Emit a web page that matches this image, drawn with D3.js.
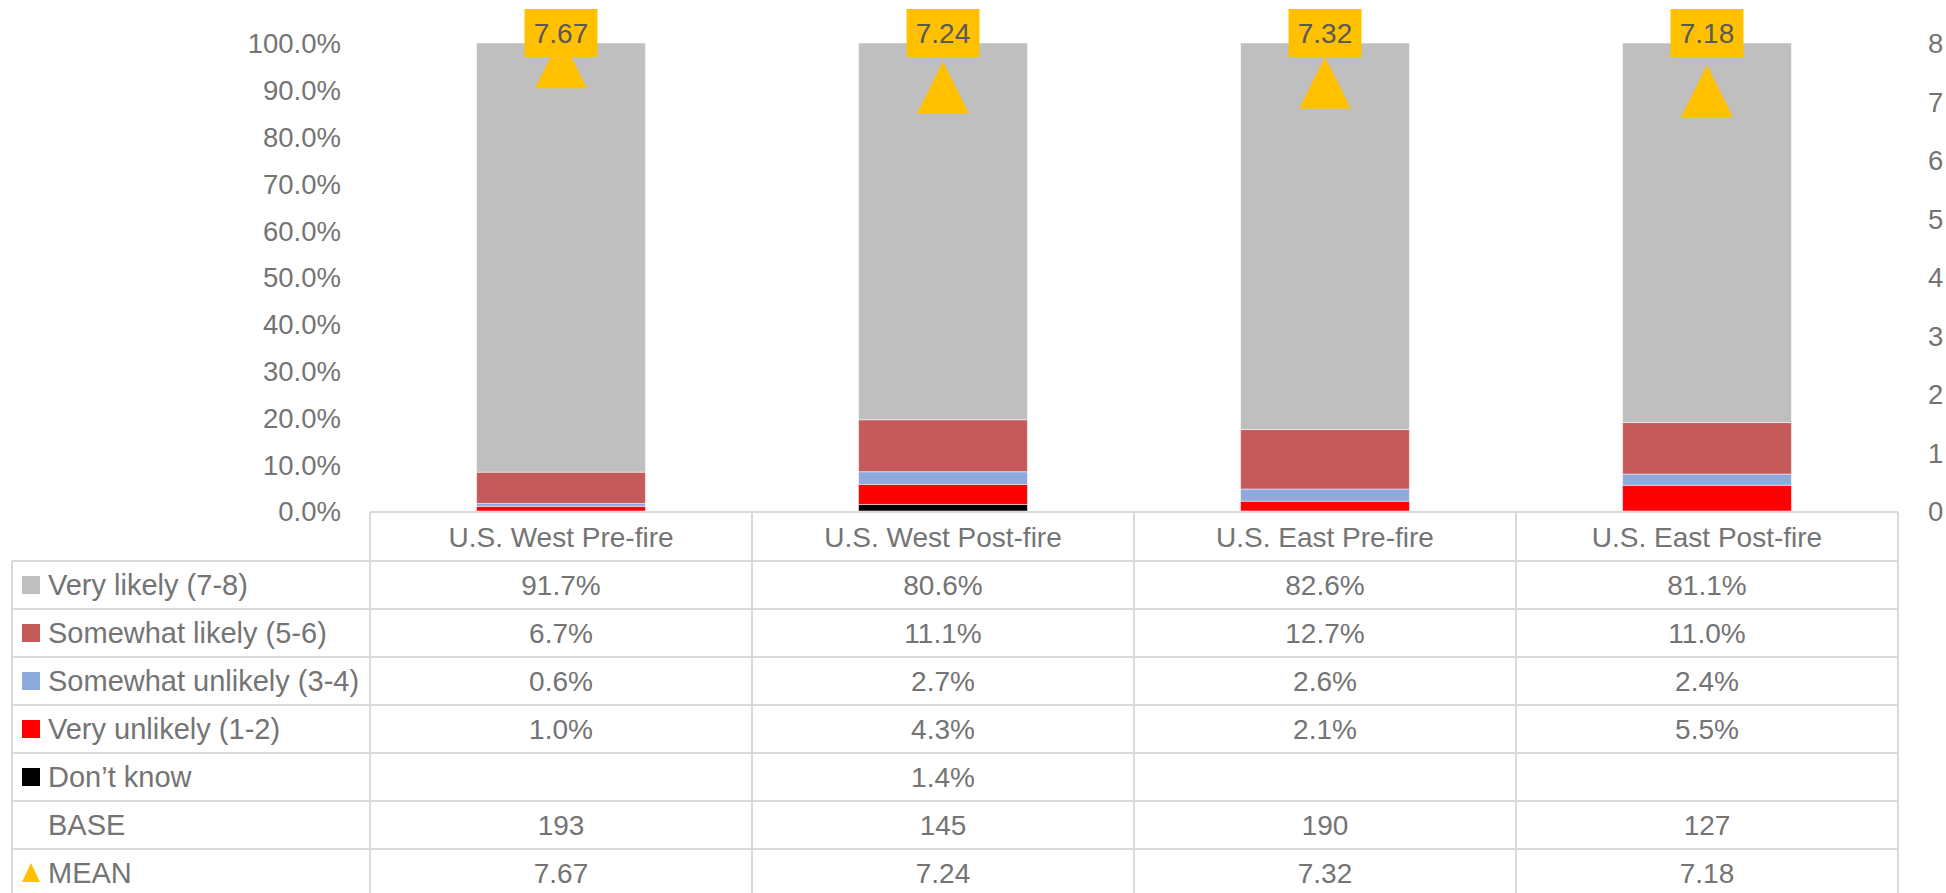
<!DOCTYPE html>
<html>
<head>
<meta charset="utf-8">
<script src="https://cdn.jsdelivr.net/npm/d3@7"></script>
<style>
  html, body { margin: 0; padding: 0; background: #fff; }
  text { font-family: "Liberation Sans", Arial, sans-serif; }
</style>
</head>
<body>
<svg id="chart"></svg>
<script>
var categories = ["U.S. West Pre-fire", "U.S. West Post-fire", "U.S. East Pre-fire", "U.S. East Post-fire"];
// stacked from bottom to top
var seriesNames = ["Don\u2019t know", "Very unlikely (1-2)", "Somewhat unlikely (3-4)", "Somewhat likely (5-6)", "Very likely (7-8)"];
var dontKnow = [null, 1.4, null, null];
var veryUnlikely = [1.0, 4.3, 2.1, 5.5];
var somewhatUnlikely = [0.6, 2.7, 2.6, 2.4];
var somewhatLikely = [6.7, 11.1, 12.7, 11.0];
var veryLikely = [91.7, 80.6, 82.6, 81.1];
var base = [193, 145, 190, 127];
var means = [7.67, 7.24, 7.32, 7.18];
var pctTicks = [0, 10, 20, 30, 40, 50, 60, 70, 80, 90, 100];
var meanTicks = [0, 1, 2, 3, 4, 5, 6, 7, 8];

var colors = ["#000000", "#FF0000", "#8EA9DB", "#C55A5B", "#BFBFBF"];
var seriesValues = [dontKnow, veryUnlikely, somewhatUnlikely, somewhatLikely, veryLikely];

var width = 1946, height = 893;
var plotLeft = 370, plotRight = 1898, plotTop = 43, plotBottom = 511;
var textColor = "#747474";
var gridColor = "#d9d9d9";
var fs = 28;

var svg = d3.select("#chart").attr("width", width).attr("height", height);

var x = d3.scaleBand().domain(categories).range([plotLeft, plotRight]);
var barW = x.bandwidth() * 0.442;
var yL = d3.scaleLinear().domain([0, 100]).range([plotBottom, plotTop]);
var yR = d3.scaleLinear().domain([0, 8]).range([plotBottom, plotTop]);

// stacked rows
var rows = categories.map(function (c, i) {
  var r = { cat: c };
  seriesNames.forEach(function (s, j) { r[s] = seriesValues[j][i] || 0; });
  return r;
});
var stack = d3.stack().keys(seriesNames)(rows);

var bars = svg.append("g");
stack.forEach(function (layer, j) {
  bars.selectAll(null)
    .data(layer)
    .enter().append("rect")
    .attr("x", function (d) { return x(d.data.cat) + (x.bandwidth() - barW) / 2; })
    .attr("width", barW)
    .attr("y", function (d) { return yL(Math.min(100, d[1])); })
    .attr("height", function (d) { return Math.max(0, yL(Math.min(100, d[0])) - yL(Math.min(100, d[1]))); })
    .attr("fill", colors[j])
    .attr("stroke", "#fff")
    .attr("stroke-opacity", 0.5)
    .attr("stroke-width", 1);
});

// left axis
var axL = svg.append("g")
  .attr("transform", "translate(" + (plotLeft - 20) + ",0)")
  .call(d3.axisLeft(yL).tickValues(pctTicks).tickSize(0).tickPadding(9)
    .tickFormat(function (d) { return d.toFixed(1) + "%"; }));
axL.select(".domain").remove();
axL.selectAll("text").attr("fill", textColor).style("font-size", "27.5px").attr("dy", "0.36em");

// right axis
var axR = svg.append("g")
  .attr("transform", "translate(" + plotRight + ",0)")
  .call(d3.axisRight(yR).tickValues(meanTicks).tickSize(0).tickPadding(30));
axR.select(".domain").remove();
axR.selectAll("text").attr("fill", textColor).style("font-size", "27.5px").attr("dy", "0.36em");

// mean markers: 52 wide, 52 tall triangle centred on the value
var tallTriangle = {
  draw: function (ctx, size) {
    var h = Math.sqrt(size) / 2;
    ctx.moveTo(0, -h);
    ctx.lineTo(h, h);
    ctx.lineTo(-h, h);
    ctx.closePath();
  }
};
var tri = d3.symbol().type(tallTriangle).size(52 * 52);
var meanG = svg.append("g");
meanG.selectAll("path")
  .data(means)
  .enter().append("path")
  .attr("d", tri)
  .attr("fill", "#FFC000")
  .attr("transform", function (d, i) {
    return "translate(" + (x(categories[i]) + x.bandwidth() / 2) + "," + yR(d) + ")";
  });

// mean labels
var lab = meanG.selectAll("g.lab")
  .data(means)
  .enter().append("g")
  .attr("class", "lab")
  .attr("transform", function (d, i) {
    return "translate(" + (x(categories[i]) + x.bandwidth() / 2) + ",33)";
  });
lab.append("rect")
  .attr("x", -36.5).attr("y", -24).attr("width", 73).attr("height", 48)
  .attr("fill", "#FFC000");
lab.append("text")
  .attr("text-anchor", "middle")
  .attr("dy", "0.36em")
  .attr("fill", "#595959")
  .style("font-size", "28px")
  .text(function (d) { return d.toFixed(2); });

// data table
var tableLeft = 12;
var headerTop = 512, headerH = 49, rowH = 48;
var tableRows = [
  { name: "Very likely (7-8)", color: colors[4], kind: "sq", vals: veryLikely.map(fmtPct) },
  { name: "Somewhat likely (5-6)", color: colors[3], kind: "sq", vals: somewhatLikely.map(fmtPct) },
  { name: "Somewhat unlikely (3-4)", color: colors[2], kind: "sq", vals: somewhatUnlikely.map(fmtPct) },
  { name: "Very unlikely (1-2)", color: colors[1], kind: "sq", vals: veryUnlikely.map(fmtPct) },
  { name: "Don\u2019t know", color: colors[0], kind: "sq", vals: dontKnow.map(fmtPct) },
  { name: "BASE", color: null, kind: "none", vals: base.map(String) },
  { name: "MEAN", color: "#FFC000", kind: "tri", vals: means.map(function (d) { return d.toFixed(2); }) }
];
function fmtPct(v) { return v == null ? "" : v.toFixed(1) + "%"; }

var tbl = svg.append("g");
var lineAttrs = function (sel) { sel.attr("stroke", gridColor).attr("stroke-width", 2); };
var tableBottom = headerTop + headerH + rowH * tableRows.length;

// horizontal lines
tbl.append("line").attr("x1", plotLeft).attr("x2", plotRight).attr("y1", headerTop).attr("y2", headerTop).call(lineAttrs);
for (var r = 0; r <= tableRows.length; r++) {
  var yy = headerTop + headerH + r * rowH;
  tbl.append("line").attr("x1", tableLeft).attr("x2", plotRight).attr("y1", yy).attr("y2", yy).call(lineAttrs);
}
// vertical lines
tbl.append("line").attr("x1", tableLeft).attr("x2", tableLeft).attr("y1", headerTop + headerH).attr("y2", tableBottom).call(lineAttrs);
categories.concat([null]).forEach(function (c) {
  var xx = c == null ? plotRight : x(c);
  tbl.append("line").attr("x1", xx).attr("x2", xx).attr("y1", headerTop).attr("y2", tableBottom).call(lineAttrs);
});

// header labels
tbl.selectAll("text.hdr")
  .data(categories)
  .enter().append("text")
  .attr("class", "hdr")
  .attr("x", function (c) { return x(c) + x.bandwidth() / 2; })
  .attr("y", headerTop + headerH / 2)
  .attr("dy", "0.36em")
  .attr("text-anchor", "middle")
  .attr("fill", textColor)
  .style("font-size", fs + "px")
  .text(function (c) { return c; });

tableRows.forEach(function (row, r) {
  var cy = headerTop + headerH + r * rowH + rowH / 2;
  if (row.kind === "sq") {
    tbl.append("rect").attr("x", 22).attr("y", cy - 9).attr("width", 18).attr("height", 18).attr("fill", row.color);
  } else if (row.kind === "tri") {
    tbl.append("path").attr("d", "M31," + (cy - 10) + "L40," + (cy + 9) + "L22," + (cy + 9) + "Z").attr("fill", row.color);
  }
  tbl.append("text")
    .attr("x", 48).attr("y", cy).attr("dy", "0.36em")
    .attr("fill", textColor)
    .style("font-size", "29px")
    .text(row.name);
  row.vals.forEach(function (v, i) {
    tbl.append("text")
      .attr("x", x(categories[i]) + x.bandwidth() / 2)
      .attr("y", cy).attr("dy", "0.36em")
      .attr("text-anchor", "middle")
      .attr("fill", textColor)
      .style("font-size", fs + "px")
      .text(v);
  });
});
</script>
</body>
</html>
